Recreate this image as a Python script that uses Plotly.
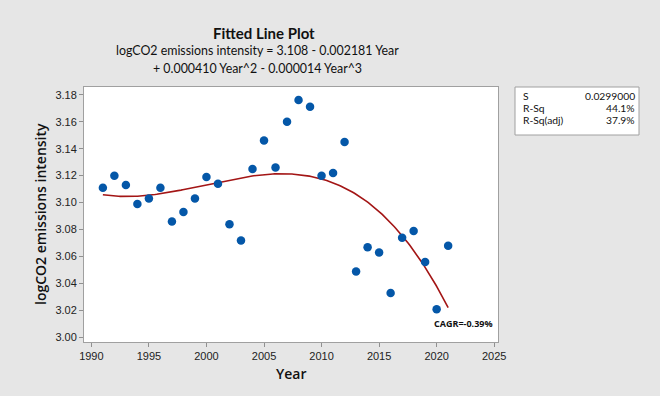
import numpy as np
import plotly.graph_objects as go

# Observations: year and log CO2 emissions intensity
years = [1991, 1992, 1993, 1994, 1995, 1996, 1997, 1998, 1999, 2000,
         2001, 2002, 2003, 2004, 2005, 2006, 2007, 2008, 2009, 2010,
         2011, 2012, 2013, 2014, 2015, 2016, 2017, 2018, 2019, 2020, 2021]
log_co2 = [3.111, 3.120, 3.113, 3.099, 3.103, 3.111, 3.086, 3.093, 3.103, 3.119,
           3.114, 3.084, 3.072, 3.125, 3.146, 3.126, 3.160, 3.176, 3.171, 3.120,
           3.122, 3.145, 3.049, 3.067, 3.063, 3.033, 3.074, 3.079, 3.056, 3.021, 3.068]

x_ticks = [1990, 1995, 2000, 2005, 2010, 2015, 2020, 2025]
y_ticks = [3.00, 3.02, 3.04, 3.06, 3.08, 3.10, 3.12, 3.14, 3.16, 3.18]

stat_names = ["S", "R-Sq", "R-Sq(adj)"]
stat_values = ["0.0299000", "44.1%", "37.9%"]

title_text = "Fitted Line Plot"
equation_lines = ["logCO2 emissions intensity = 3.108 - 0.002181 Year",
                  "+ 0.000410 Year^2 - 0.000014 Year^3"]
cagr_text = "CAGR=-0.39%"

# Cubic least-squares fit on the coded year (1 = 1991)
t = np.array(years) - 1990
coef = np.polyfit(t, np.array(log_co2), 3)
t_fine = np.linspace(t.min(), t.max(), 200)
fit_years = t_fine + 1990
fit_vals = np.polyval(coef, t_fine)

W, H = 665, 396
L, R, T, B = 84, 498, 87, 342  # plot area in pixels
pw, ph = R - L, B - T


def px(x):
    return (x - L) / pw


def py(y):
    return (B - y) / ph


FONT = "Open Sans, Noto Sans, sans-serif"
HEAD = "Lato, Open Sans, sans-serif"
NARROW = "Liberation Sans Narrow, Arial Narrow, Liberation Sans, sans-serif"

fig = go.Figure()
fig.add_trace(go.Scatter(
    x=fit_years, y=fit_vals, mode="lines",
    line=dict(color="#A31515", width=1.6), hoverinfo="skip", showlegend=False))
fig.add_trace(go.Scatter(
    x=years, y=log_co2, mode="markers",
    marker=dict(color="#0457A8", size=8.5), showlegend=False))

annotations = [
    dict(text=f"<b>{title_text}</b>", x=px(264), y=py(33), font=dict(size=15, family=HEAD, color="#111")),
    dict(text=equation_lines[0], x=px(257), y=py(50), font=dict(size=12.4, family=HEAD, color="#111")),
    dict(text=equation_lines[1], x=px(257), y=py(68), font=dict(size=12.4, family=HEAD, color="#111")),
    dict(text="Year", x=px(291), y=py(373), font=dict(size=14, family=FONT, color="#111", weight=600)),
    dict(text="logCO2 emissions intensity", x=px(40), y=py(214), textangle=-90,
         font=dict(size=14, family=FONT, color="#111", weight=600)),
    dict(text=f"<b>{cagr_text}</b>", x=px(432), y=py(323), xanchor="left",
         font=dict(size=9, family=FONT, color="#111")),
]
# statistics table rows
row_y = [95.5, 107.5, 119.5]
for name, val, yy in zip(stat_names, stat_values, row_y):
    annotations.append(dict(text=name, x=px(521), y=py(yy), xanchor="left",
                            font=dict(size=10.3, family=HEAD, color="#111")))
    annotations.append(dict(text=val, x=px(637), y=py(yy), xanchor="right",
                            font=dict(size=10.3, family=HEAD, color="#111")))
for a in annotations:
    a.update(xref="paper", yref="paper", showarrow=False)
    a.setdefault("xanchor", "center")
    a.setdefault("yanchor", "middle")

shapes = [
    dict(type="rect", xref="paper", yref="paper", x0=px(515), x1=px(639), y0=py(87), y1=py(135),
         fillcolor="white", line=dict(color="#A0A0A0", width=1), layer="below"),
    dict(type="rect", xref="paper", yref="paper", x0=px(660), x1=px(666), y0=py(-2), y1=py(398),
         fillcolor="white", line=dict(width=0), layer="below"),
]

fig.update_layout(
    width=W, height=H, autosize=False,
    margin=dict(l=L, r=W - R, t=T, b=H - B, pad=0, autoexpand=False),
    paper_bgcolor="#E6E6E6", plot_bgcolor="white",
    annotations=annotations, shapes=shapes,
    xaxis=dict(range=[1989.36, 2025.33], tickvals=x_ticks, ticks="outside", ticklen=4,
               tickcolor="#909090", showline=True, linecolor="#A0A0A0", mirror=True,
               showgrid=False, zeroline=False,
               tickfont=dict(size=11, family=NARROW, color="#222")),
    yaxis=dict(range=[2.9967, 3.1857], tickvals=y_ticks, tickformat=".2f", ticks="outside",
               ticklen=4, tickcolor="#909090", showline=True, linecolor="#A0A0A0", mirror=True,
               showgrid=False, zeroline=False,
               tickfont=dict(size=11, family=NARROW, color="#222")),
)

fig.write_html("out.html")
